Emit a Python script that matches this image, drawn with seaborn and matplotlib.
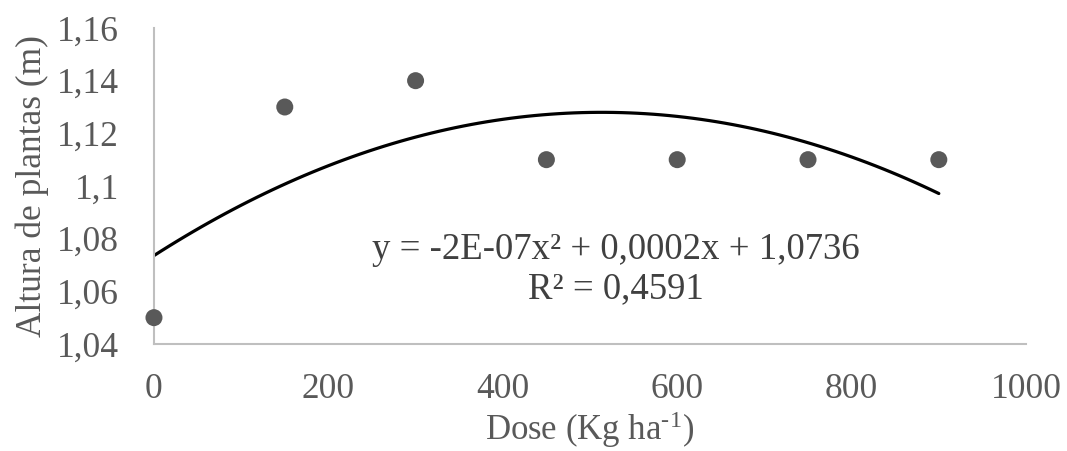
import matplotlib
matplotlib.use("Agg")
import matplotlib.pyplot as plt
import seaborn as sns
import pandas as pd
from matplotlib.ticker import FuncFormatter, MultipleLocator

dose = [0, 150, 300, 450, 600, 750, 900]
altura = [1.05, 1.13, 1.14, 1.11, 1.11, 1.11, 1.11]
eq_text = "y = -2E-07x² + 0,0002x + 1,0736"
r2_text = "R² = 0,4591"

sns.set_theme(style="white")
plt.rcParams['font.family'] = ['Liberation Serif', 'DejaVu Serif']
plt.rcParams['mathtext.fontset'] = 'custom'
plt.rcParams['mathtext.rm'] = 'Liberation Serif'
plt.rcParams['mathtext.it'] = 'Liberation Serif:italic'

df = pd.DataFrame({"dose": dose, "altura": altura})

fig = plt.figure(figsize=(10.67, 4.51), dpi=100)
ax = fig.add_axes([0.1443, 0.2373, 0.8173, 0.7006])

sns.regplot(data=df, x="dose", y="altura", order=2, ci=None, scatter=False,
            truncate=True, line_kws=dict(color="black", lw=2.3), ax=ax)
sns.scatterplot(data=df, x="dose", y="altura", color="#595959", s=150,
                edgecolor="none", ax=ax, zorder=3, clip_on=False)

ax.set_xlim(0, 1000)
ax.set_ylim(1.04, 1.16)
ax.xaxis.set_major_locator(MultipleLocator(200))
ax.yaxis.set_major_locator(MultipleLocator(0.02))
ax.yaxis.set_major_formatter(FuncFormatter(lambda v, p: f"{round(v, 4):g}".replace('.', ',')))
ax.xaxis.set_major_formatter(FuncFormatter(lambda v, p: f"{v:g}"))

for s in ["top", "right"]:
    ax.spines[s].set_visible(False)
for s in ["left", "bottom"]:
    ax.spines[s].set_color("#bfbfbf")
    ax.spines[s].set_linewidth(1.5)

ax.tick_params(axis="both", length=0, labelsize=25.5, labelcolor="#595959")
ax.tick_params(axis="x", pad=21)
ax.tick_params(axis="y", pad=25)

ax.set_xlabel(r"Dose (Kg ha$^{\text{-1}}$)", fontsize=25, color="#595959", labelpad=2)
ax.set_ylabel("Altura de plantas (m)", fontsize=25.5, color="#595959", labelpad=6)

ax.text(530, 1.0757, eq_text, ha="center", va="center", fontsize=26.5, color="#404040")
ax.text(530, 1.0609, r2_text, ha="center", va="center", fontsize=26.5, color="#404040")

fig.savefig("out.png", dpi=100)
